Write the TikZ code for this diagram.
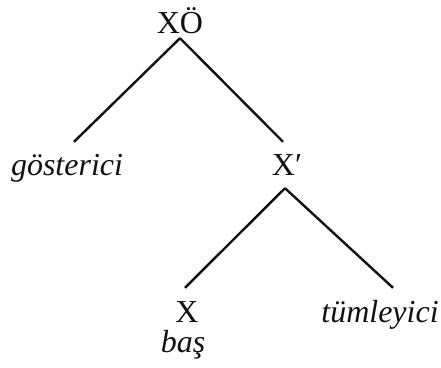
\documentclass[tikz,border=0pt]{standalone}
\usepackage{fontspec}
\setmainfont{Liberation Serif}
\usepackage{xcolor}
\usepackage{tikz}
\definecolor{inkblack}{HTML}{111111}

\tikzset{
  lbl/.style={font=\fontsize{32}{38}\selectfont, text=inkblack, inner sep=0pt,
              text height=21pt, text depth=7pt, anchor=base},
  branch/.style={draw=inkblack, line width=2.4pt}
}

\begin{document}
\begin{tikzpicture}[x=1pt, y=-1pt]
    \useasboundingbox (0,0) rectangle (441,367);
    % labels
    \node[lbl] (xo)   at (180,33)  {XÖ};
    \node[lbl] (gost) at (67,175)  {\textit{gösterici}};
    \node[lbl] (xbar) at (287,175) {X′};
    \node[lbl] (xhd)  at (187,322) {X};
    \node[lbl] (tum)  at (380,322) {\textit{tümleyici}};
    \node[lbl] (bas)  at (183,352) {\textit{baş}};
    % branches
    \draw[branch] ([yshift=2pt]xo.south) -- ([xshift=7pt, yshift=12pt]gost.north);
    \draw[branch] ([yshift=2pt]xo.south) -- ([xshift=-4pt, yshift=12pt]xbar.north);
    \draw[branch] ([xshift=-2pt, yshift=-6pt]xbar.south) -- ([xshift=-2pt, yshift=13pt]xhd.north);
    \draw[branch] ([xshift=-2pt, yshift=-6pt]xbar.south) -- ([xshift=13pt, yshift=13pt]tum.north);
\end{tikzpicture}
\end{document}
